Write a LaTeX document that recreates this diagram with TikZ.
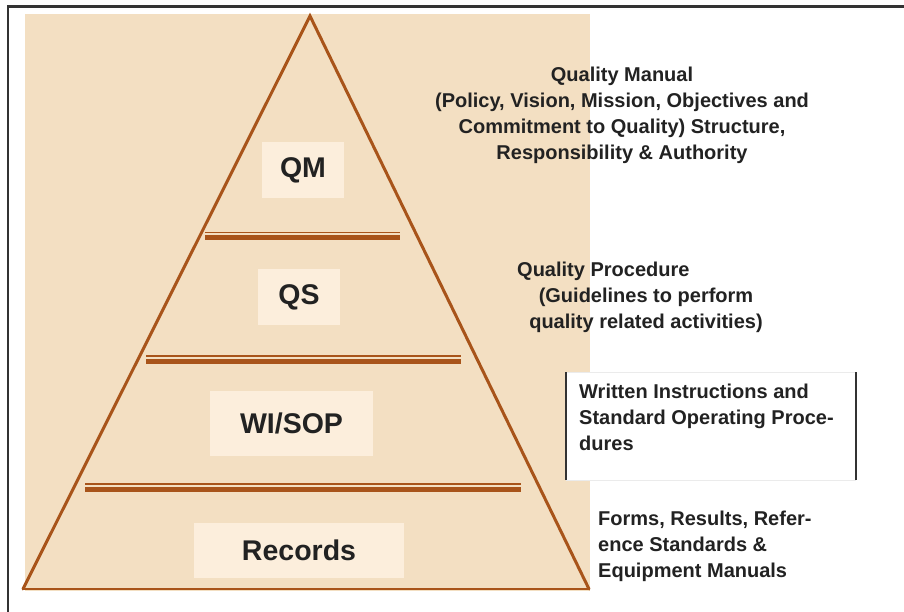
\documentclass[tikz,border=0pt]{standalone}
\usepackage{fontspec}
\setmainfont{Liberation Sans}
\definecolor{parch}{HTML}{F3DFC2}
\definecolor{lboxc}{HTML}{FCEEDC}
\definecolor{brownc}{HTML}{A8541A}
\definecolor{txtc}{HTML}{222222}
\definecolor{framec}{HTML}{333333}
\tikzset{
  frameline/.style={draw=framec, line width=2.5},
  triside/.style={draw=brownc, line width=3, line cap=round, line join=miter},
  tribase/.style={draw=brownc, line width=2},
  thinrule/.style={draw=brownc, line width=1.2},
  thickrule/.style={draw=brownc, line width=5},
  lbox/.style={fill=lboxc, inner sep=0, text=txtc, font=\fontsize{28.5}{32}\selectfont\bfseries},
  sidetext/.style={inner sep=0, text=txtc, font=\fontsize{20}{26}\selectfont\bfseries},
}
\begin{document}
\begin{tikzpicture}[x=1pt,y=-1pt]
\useasboundingbox (0,0) rectangle (904,612);
\fill[white] (0,0) rectangle (904,612);
\draw[frameline] (8,612) -- (8,6.5) -- (904,6.5);
\fill[parch] (25,14) rectangle (590,591);
% pyramid
\coordinate (apex) at (310,16);
\coordinate (bl) at (23,589);
\coordinate (br) at (589,589);
\draw[tribase] (bl) -- (br);
\draw[triside] (bl) -- (apex) -- (br);
% dividers
\coordinate (d1l) at (205,232.5); \coordinate (d1r) at (400,232.5);
\coordinate (d1lb) at (205,237.5); \coordinate (d1rb) at (400,237.5);
\draw[thinrule] (d1l) -- (d1r);
\draw[thickrule] (d1lb) -- (d1rb);
\coordinate (d2l) at (146,356); \coordinate (d2r) at (461,356);
\coordinate (d2lb) at (146,361.5); \coordinate (d2rb) at (461,361.5);
\draw[thinrule] (d2l) -- (d2r);
\draw[thickrule] (d2lb) -- (d2rb);
\coordinate (d3l) at (85,484); \coordinate (d3r) at (521,484);
\coordinate (d3lb) at (85,489); \coordinate (d3rb) at (521,489);
\draw[thinrule] (d3l) -- (d3r);
\draw[thickrule] (d3lb) -- (d3rb);
% level labels
\node[lbox, minimum width=82, minimum height=56] (qm) at (303,170) {QM};
\node[lbox, minimum width=82, minimum height=56] (qs) at (299,297) {QS};
\node[lbox, minimum width=163, minimum height=65] (wisop) at (291.5,423) {WI/SOP};
\node[lbox, minimum width=210, minimum height=55] (rec) at (299,550.5) {Records};
% side texts
\node[sidetext, align=center] (qmtext) at (622,115) {Quality Manual\\(Policy, Vision, Mission, Objectives and\\Commitment to Quality) Structure,\\Responsibility \& Authority};
\node[sidetext, anchor=west] (qptitle) at (517,271) {Quality Procedure};
\node[sidetext, align=center] (qptext) at (646,310) {(Guidelines to perform\\quality related activities)};
\node[fill=white, inner sep=0, minimum width=290, minimum height=108, anchor=north west] (wibox) at (566,372) {};
\draw[draw=black!8, line width=0.8] (wibox.north west) -- (wibox.north east);
\draw[draw=black!8, line width=0.8] (wibox.south west) -- (wibox.south east);
\draw[draw=framec, line width=2] (wibox.north west) -- (wibox.south west);
\draw[draw=framec, line width=2] (wibox.north east) -- (wibox.south east);
\node[sidetext, align=left, anchor=north west] (witext) at (579,384) {Written Instructions and\\Standard Operating Proce-\\dures};
\node[sidetext, align=left, anchor=north west] (formtext) at (598,511) {Forms, Results, Refer-\\ence Standards \&\\Equipment Manuals};
\end{tikzpicture}
\end{document}
